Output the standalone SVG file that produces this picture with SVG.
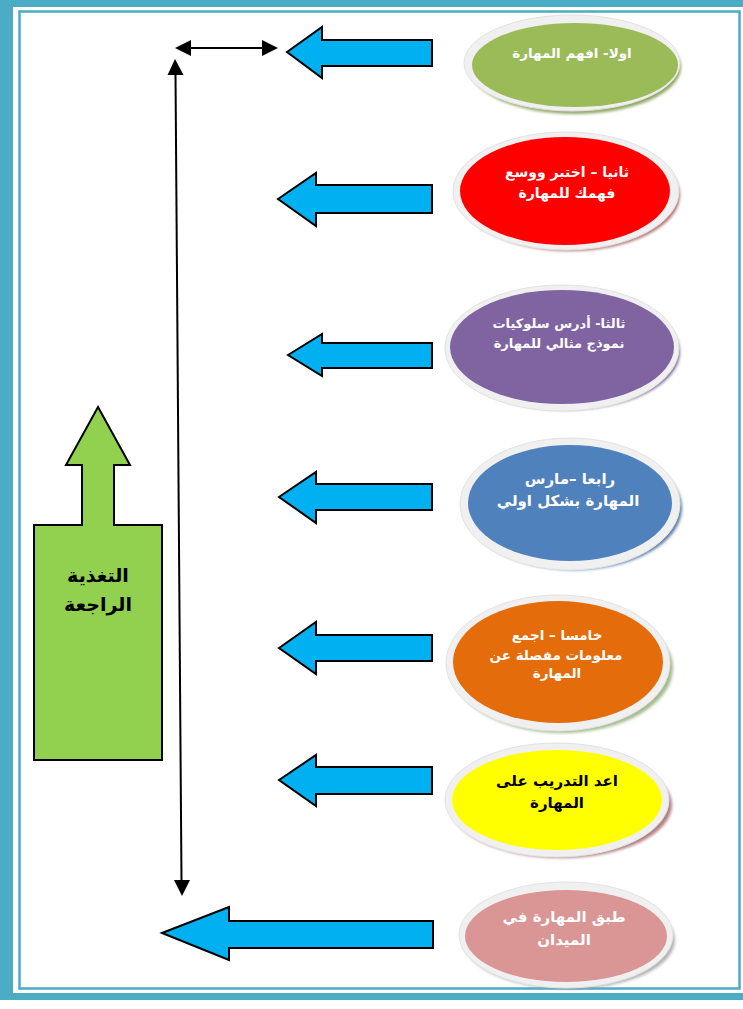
<svg xmlns="http://www.w3.org/2000/svg" width="743" height="1009" viewBox="0 0 743 1009">
<defs>
<style>
.rim{fill:#f0f0f0;stroke:#e2e2e2;stroke-width:1}
.shd{filter:url(#blur)}
.barrow{fill:#00B0F0;stroke:#000;stroke-width:2;stroke-linejoin:miter}
.lbl{font-family:"DejaVu Sans","Liberation Sans",sans-serif;font-weight:bold;text-anchor:middle;direction:rtl}
.w{fill:#fff}
.k{fill:#000}
.conn{stroke:#000;stroke-width:2;fill:none}
.band{fill:#4BACC6}
</style>
<filter id="blur" x="-10%" y="-10%" width="120%" height="130%"><feGaussianBlur stdDeviation="1.5"/></filter>
</defs>
<rect width="743" height="1009" fill="#fff"/>
<g id="frame">
<rect class="band" x="0" y="0" width="743" height="7"/>
<rect class="band" x="0" y="0" width="13" height="1000"/>
<rect class="band" x="0" y="993" width="743" height="7"/>
<rect x="19.5" y="11.5" width="720" height="977" fill="none" stroke="#4BACC6" stroke-width="2.5"/>
</g>
<g id="connectors">
<line class="conn" x1="191" y1="48" x2="262" y2="48"/>
<path d="M175,48 L191,40 L191,56 z" fill="#000"/>
<path d="M278,48 L262,40 L262,56 z" fill="#000"/>
<line class="conn" x1="175.5" y1="74" x2="181.5" y2="882"/>
<path d="M175,59 L167.5,75 L183.5,75 z" fill="#000"/>
<path d="M182,896 L174,880 L190,880 z" fill="#000"/>
<path class="barrow" d="M287,52 L322,27 L322,40 L432,40 L432,66 L322,66 L322,78 z"/>
<path class="barrow" d="M278,199 L316,173 L316,185 L432,185 L432,213 L316,213 L316,226 z"/>
<path class="barrow" d="M288,355 L322,334 L322,343 L432,343 L432,368 L322,368 L322,376 z"/>
<path class="barrow" d="M279,497 L316,472 L316,484 L432,484 L432,510 L316,510 L316,523 z"/>
<path class="barrow" d="M279,648 L316,622 L316,635 L432,635 L432,661 L316,661 L316,674 z"/>
<path class="barrow" d="M279,780 L316,755 L316,767 L432,767 L432,794 L316,794 L316,806 z"/>
<path class="barrow" d="M162,933 L229,907 L229,921 L433,921 L433,948 L229,948 L229,960 z"/>
</g>
<g id="feedback">
<path d="M98,407 L130,465 L114,465 L114,525 L162,525 L162,760 L34,760 L34,525 L82,525 L82,465 L66,465 z" fill="#92D050" stroke="#000" stroke-width="2"/>
<text class="lbl k" x="98" y="582" font-size="19">التغذية</text>
<text class="lbl k" x="98" y="611" font-size="19">الراجعة</text>
</g>
<g id="node1">
<ellipse class="shd" cx="575" cy="67" rx="106" ry="47" fill="#76923C" opacity="0.8"/>
<ellipse class="rim" cx="572" cy="63" rx="108" ry="48"/>
<ellipse cx="575" cy="65" rx="103" ry="42" fill="#9BBB59"/>
<text class="lbl w" x="572" y="58" font-size="13.5">اولا- افهم المهارة</text>
</g>
<g id="node2">
<ellipse class="shd" cx="570" cy="195" rx="110" ry="56" fill="#A05050" opacity="0.8"/>
<ellipse class="rim" cx="566" cy="191" rx="113" ry="59"/>
<ellipse cx="565" cy="191" rx="105" ry="54" fill="#FF0000"/>
<text class="lbl w" x="567" y="177" font-size="14">ثانيا – اختبر ووسع</text>
<text class="lbl w" x="567" y="198" font-size="14">فهمك للمهارة</text>
</g>
<g id="node3">
<ellipse class="shd" cx="566" cy="352" rx="114" ry="58" fill="#5F497A" opacity="0.8"/>
<ellipse class="rim" cx="562" cy="348" rx="117" ry="63"/>
<ellipse cx="562" cy="347" rx="112" ry="57" fill="#8064A2"/>
<text class="lbl w" x="559" y="328" font-size="13">ثالثا- أدرس سلوكيات</text>
<text class="lbl w" x="559" y="348" font-size="13">نموذج مثالي للمهارة</text>
</g>
<g id="node4">
<ellipse class="shd" cx="574" cy="508" rx="108" ry="62" fill="#365F91" opacity="0.8"/>
<ellipse class="rim" cx="570" cy="504" rx="110" ry="66"/>
<ellipse cx="570" cy="503" rx="102" ry="58" fill="#4F81BD"/>
<text class="lbl w" x="570" y="484" font-size="15">رابعا –مارس</text>
<text class="lbl w" x="568" y="506" font-size="15">المهارة بشكل اولي</text>
</g>
<g id="node5">
<ellipse class="shd" cx="562" cy="668" rx="111" ry="65" fill="#7F9F5F" opacity="0.7"/>
<ellipse class="rim" cx="558" cy="663" rx="112" ry="68"/>
<ellipse cx="558" cy="662" rx="105" ry="61" fill="#E46C0A"/>
<text class="lbl w" x="557" y="640" font-size="13.5">خامسا – اجمع</text>
<text class="lbl w" x="556" y="660" font-size="13.5">معلومات مفصلة عن</text>
<text class="lbl w" x="557" y="678" font-size="13.5">المهارة</text>
</g>
<g id="node6">
<ellipse class="shd" cx="561" cy="805" rx="111" ry="53" fill="#A06060" opacity="0.8"/>
<ellipse class="rim" cx="557" cy="800" rx="112" ry="57"/>
<ellipse cx="557" cy="800" rx="105" ry="50" fill="#FFFF00"/>
<text class="lbl k" x="557" y="786" font-size="15">اعد التدريب على</text>
<text class="lbl k" x="557" y="808" font-size="15">المهارة</text>
</g>
<g id="node7">
<ellipse class="shd" cx="569" cy="940" rx="106" ry="49" fill="#A0A0A0" opacity="0.8"/>
<ellipse class="rim" cx="566" cy="935" rx="107" ry="53"/>
<ellipse cx="566" cy="936" rx="101" ry="46" fill="#D99694"/>
<text class="lbl w" x="564" y="922" font-size="15">طبق المهارة في</text>
<text class="lbl w" x="564" y="945" font-size="15">الميدان</text>
</g>
</svg>
